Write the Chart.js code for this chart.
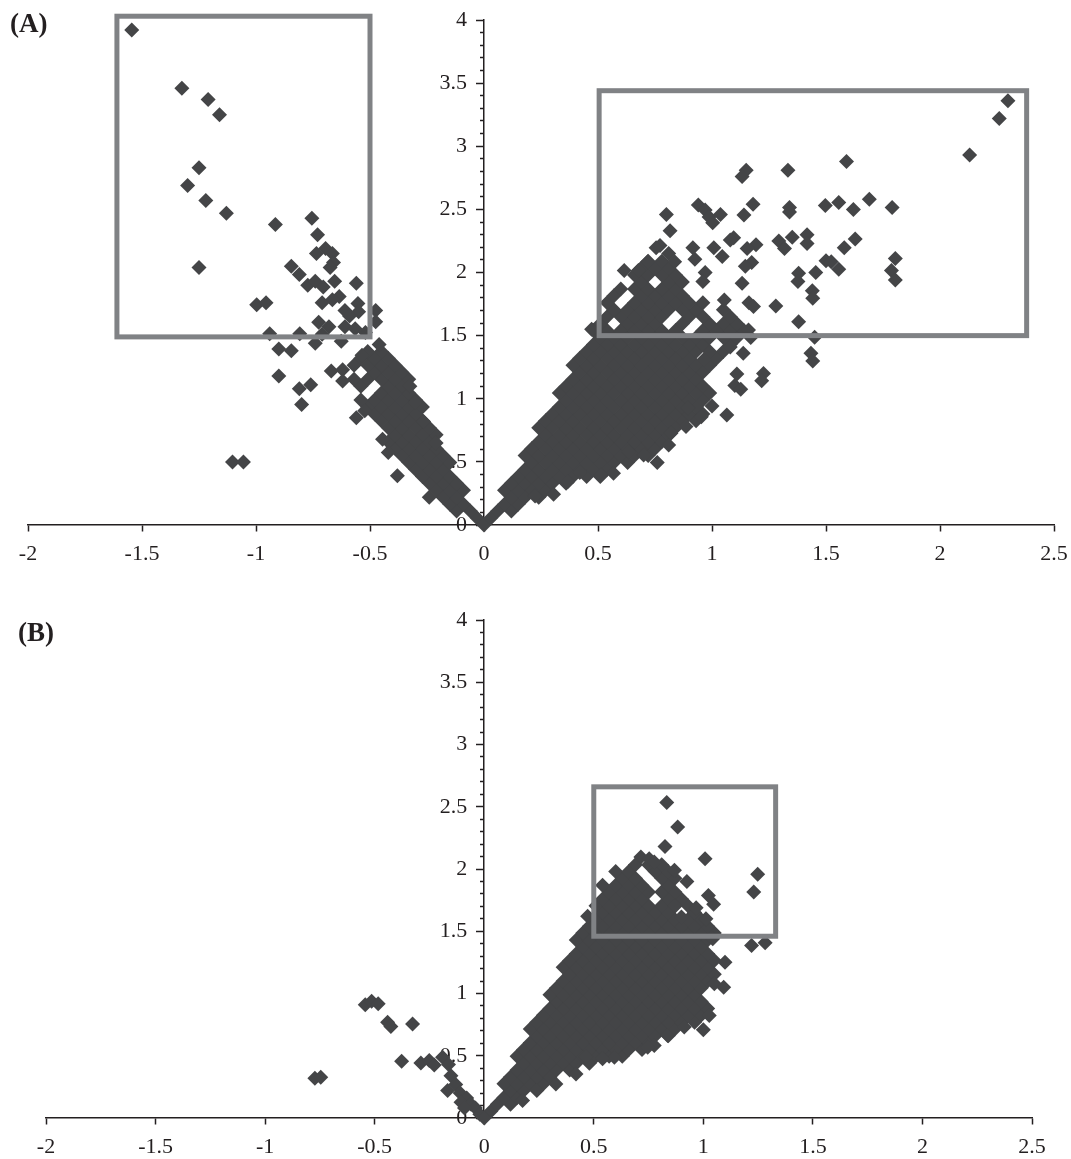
<!DOCTYPE html>
<html>
<head>
<meta charset="utf-8">
<title>Volcano plots</title>
<script src="https://cdn.jsdelivr.net/npm/chart.js@4/dist/chart.umd.js"></script>
<style>
  body { margin: 0; background: #fff; width: 1071px; height: 1159px; position: relative; overflow: hidden; }
  canvas { position: absolute; left: 0; }
  .tag { position: absolute; font: bold 27px "Liberation Serif", serif; color: #231f20; }
</style>
</head>
<body>
<canvas id="panel-a" width="1071" height="590" style="top:0"></canvas>
<canvas id="panel-b" width="1071" height="569" style="top:590px"></canvas>
<div class="tag" style="left:10px;top:8px">(A)</div>
<div class="tag" style="left:18px;top:617px">(B)</div>
<script>
const X_TICKS = [-2, -1.5, -1, -0.5, 0, 0.5, 1, 1.5, 2, 2.5];
const Y_TICKS = [0, 0.5, 1, 1.5, 2, 2.5, 3, 3.5, 4];
const Y_MINOR = [0, 0.1, 0.2, 0.3, 0.4, 0.6, 0.7, 0.8, 0.9, 1.1, 1.2, 1.3, 1.4, 1.6, 1.7, 1.8, 1.9,
  2.1, 2.2, 2.3, 2.4, 2.6, 2.7, 2.8, 2.9, 3.1, 3.2, 3.3, 3.4, 3.6, 3.7, 3.8, 3.9];

// Panel A, loose points on the down-regulated side: [x, y]
const aLeftLoose = [
  [-1.545,3.92],[-1.325,3.46],[-1.21,3.37],[-1.16,3.25],[-1.25,2.83],[-1.30,2.69],[-1.22,2.57],[-1.13,2.47],
  [-0.915,2.38],[-1.25,2.04],[-0.755,2.43],[-0.73,2.30],[-0.695,2.19],[-0.665,2.15],[-0.735,2.15],[-0.66,2.08],
  [-0.675,2.04],[-0.845,2.05],[-0.81,1.985],[-0.773,1.90],[-0.74,1.93],[-0.705,1.885],[-0.655,1.93],[-0.56,1.915],
  [-0.635,1.81],[-0.665,1.785],[-0.71,1.76],[-0.997,1.745],[-0.956,1.76],[-0.61,1.70],[-0.553,1.755],[-0.55,1.69],
  [-0.475,1.70],[-0.475,1.61],[-0.59,1.655],[-0.725,1.605],[-0.68,1.57],[-0.61,1.57],[-0.565,1.555],[-0.52,1.525],
  [-0.94,1.515],[-0.808,1.515],[-0.71,1.51],[-0.74,1.44],[-0.626,1.455],[-0.90,1.395],[-0.845,1.38],[-0.90,1.18],
  [-0.67,1.22],[-0.62,1.23],[-0.62,1.14],[-0.76,1.11],[-0.81,1.08],[-0.80,0.955],[-0.56,0.85],[-0.523,0.905],
  [-1.103,0.50],[-1.055,0.50],[-0.38,0.39],[0,0],
  [-0.325,1.10],[-0.30,0.97],[-0.265,0.82],[-0.21,0.65],[-0.535,1.345],[-0.42,0.575],[-0.445,0.68],
];
// Panel A, dense band on the down-regulated side: [y, x, x, ...]
const aLeftBand = [
  [.055,-.03],[.11,-.06,-.12],[.165,-.09,-.15],[.22,-.12,-.18,-.24],[.275,-.09,-.15,-.21],[.33,-.12,-.18,-.24],
  [.385,-.15,-.21,-.27],[.44,-.18,-.24,-.30],[.495,-.15,-.21,-.27,-.33],[.55,-.18,-.24,-.30,-.36],
  [.605,-.21,-.27,-.33,-.39],[.66,-.24,-.30,-.36,-.42],[.715,-.21,-.27,-.33,-.39],[.77,-.24,-.30,-.36,-.42],
  [.825,-.27,-.33,-.39,-.45],[.88,-.30,-.36,-.42,-.48],[.935,-.27,-.33,-.39,-.45,-.51],[.99,-.30,-.36,-.42,-.48,-.54],
  [1.045,-.33,-.39,-.45],[1.10,-.36,-.42,-.54],[1.155,-.33,-.39,-.45,-.51,-.57],[1.21,-.36,-.42,-.48],
  [1.265,-.39,-.45,-.51,-.57],[1.32,-.42,-.48,-.54],[1.375,-.45,-.51],[1.43,-.46],
];
// Panel A, loose points on the up-regulated side: [x, y]
const aRightLoose = [
  [2.298,3.36],[2.26,3.22],[2.13,2.93],[1.59,2.88],[1.333,2.81],[1.15,2.81],[1.132,2.76],[1.69,2.58],[1.556,2.555],
  [1.497,2.53],[1.62,2.50],[1.79,2.515],[1.34,2.515],[1.34,2.48],[1.18,2.54],[1.14,2.455],[0.94,2.535],[0.97,2.495],
  [1.037,2.46],[0.987,2.44],[1.003,2.395],[0.80,2.46],[0.816,2.33],[1.417,2.30],[1.417,2.23],[1.352,2.28],[1.293,2.25],
  [1.318,2.19],[1.628,2.265],[1.58,2.197],[1.095,2.276],[1.08,2.258],[1.193,2.22],[1.154,2.19],[1.008,2.197],
  [1.045,2.126],[0.916,2.197],[0.925,2.105],[0.772,2.213],[0.755,2.197],[0.81,2.15],[0.836,2.086],[1.804,2.11],
  [1.787,2.015],[1.804,1.94],[1.50,2.094],[1.523,2.086],[1.556,2.025],[1.455,2.0],[1.38,1.994],[1.377,1.928],
  [1.174,2.08],[1.146,2.05],[1.132,1.914],[0.615,2.015],[0.718,2.086],[0.677,2.015],[0.97,2.0],[0.96,1.928],
  [1.44,1.856],[1.442,1.796],[1.054,1.782],[1.162,1.76],[1.182,1.73],[1.28,1.735],[1.38,1.61],[1.45,1.487],
  [1.434,1.36],[1.442,1.30],[1.226,1.20],[1.218,1.143],[1.109,1.196],[1.10,1.104],[1.126,1.075],[1.0,0.943],
  [1.065,0.871],[0.953,0.858],[0.76,0.496],[0.81,0.634],[0.70,0.555],[0.635,0.58],[0.568,0.41],[0.513,0.396],
  [0.42,0.415],[0.367,0.343],[0.305,0.243],[0.224,0.23],[1.16,1.545],[1.137,1.36],[1.08,1.41],[0.965,1.31],
  [0.895,0.924],[0.886,0.78],[0.82,0.726],[0.472,1.55],
];
// Panel A, dense fan on the up-regulated side: [y, x, x, ...]
const aRightFan = [
  [.055,.03],[.11,.06,.12],[.165,.09,.15],[.22,.12,.18,.24],[.275,.09,.15,.21,.27],[.33,.12,.18,.24,.30,.36],
  [.385,.15,.21,.27,.33,.39,.45,.51],[.44,.18,.24,.30,.36,.42,.48,.54],[.495,.21,.27,.33,.39,.45,.51,.57,.63],
  [.55,.18,.24,.30,.36,.42,.48,.54,.60,.66,.72],[.605,.21,.27,.33,.39,.45,.51,.57,.63,.69,.75],
  [.66,.24,.30,.36,.42,.48,.54,.60,.66,.72,.78],[.715,.27,.33,.39,.45,.51,.57,.63,.69,.75,.81],
  [.77,.24,.30,.36,.42,.48,.54,.60,.66,.72,.78,.84],[.825,.27,.33,.39,.45,.51,.57,.63,.69,.75,.81,.87,.93],
  [.88,.30,.36,.42,.48,.54,.60,.66,.72,.78,.84,.90,.96],[.935,.33,.39,.45,.51,.57,.63,.69,.75,.81,.87,.93],
  [.99,.36,.42,.48,.54,.60,.66,.72,.78,.84,.90,.96],[1.045,.33,.39,.45,.51,.57,.63,.69,.75,.81,.87,.93,.99],
  [1.10,.36,.42,.48,.54,.60,.66,.72,.78,.84,.90,.96],[1.155,.39,.45,.51,.57,.63,.69,.75,.81,.87,.93],
  [1.21,.42,.48,.54,.60,.66,.72,.78,.84,.90,.96],[1.265,.39,.45,.51,.57,.63,.69,.75,.81,.87,.93,.99],
  [1.32,.42,.48,.54,.60,.66,.72,.78,.84,.90,1.02],[1.375,.45,.51,.57,.63,.69,.75,.81,.87,.93,.99,1.05],
  [1.43,.48,.54,.60,.66,.72,.78,.84,.90,.96,1.08],[1.485,.51,.57,.63,.69,.75,.81,.87,.93,.99,1.05,1.11,1.17],
  [1.54,.48,.54,.60,.66,.72,.78,.84,.96,1.02,1.08,1.14],[1.595,.51,.63,.69,.75,.87,.99,1.05,1.11],
  [1.65,.54,.60,.66,.72,.78,.90,.96,1.08],[1.705,.57,.63,.69,.75,.81,.87,.93,1.05],
  [1.76,.54,.66,.72,.78,.84,.90,.96],[1.815,.57,.69,.75,.81,.87],[1.87,.60,.66,.72,.78,.84],
  [1.925,.69,.81,.87],[1.98,.66,.72,.78,.84],[2.035,.69,.75,.81],[2.09,.72,.78],
];
// Panel B, loose points: [x, y]
const bLoose = [
  [0.833,2.534],[0.883,2.338],[0.825,2.18],[1.008,2.083],[1.248,1.957],[1.23,1.815],[0.715,2.096],[0.753,2.083],
  [0.776,2.056],[0.868,1.99],[0.925,1.90],[1.023,1.788],[1.047,1.716],[0.87,1.70],[0.967,1.689],[0.90,1.614],
  [1.012,1.60],[1.043,1.44],[1.22,1.386],[1.282,1.407],[1.099,1.252],[1.05,1.078],[1.093,1.05],[1.027,0.823],
  [1.0,0.708],[0.913,0.73],[0.837,0.662],[0.776,0.582],[0.746,0.568],[0.594,0.488],[0.54,0.475],[0.464,0.488],
  [0.419,0.354],[0.327,0.273],[0.24,0.22],[0.175,0.14],[0.472,1.62],
  [-0.543,0.909],[-0.514,0.938],[-0.484,0.917],[-0.441,0.77],[-0.426,0.735],[-0.327,0.756],[-0.377,0.456],
  [-0.289,0.442],[-0.251,0.461],[-0.228,0.426],[-0.19,0.488],[-0.163,0.429],[-0.773,0.319],[-0.746,0.327],
  [-0.152,0.34],[-0.167,0.22],[-0.13,0.27],[-0.11,0.2],[-0.08,0.16],[-0.106,0.126],[-0.06,0.11],[-0.04,0.08],
  [-0.09,0.08],[-0.02,0.03],[0,0],
];
// Panel B, dense fan: [y, x, x, ...]
const bFan = [
  [.055,.03],[.11,.06,.12],[.165,.09,.15],[.22,.12,.18],[.275,.09,.15,.21,.27],[.33,.12,.18,.24,.30],
  [.385,.15,.21,.27,.33,.39],[.44,.18,.24,.30,.36,.42,.48],[.495,.15,.21,.27,.33,.39,.45,.51,.57,.63],
  [.55,.18,.24,.30,.36,.42,.48,.54,.60,.66,.72],[.605,.21,.27,.33,.39,.45,.51,.57,.63,.69,.75],
  [.66,.24,.30,.36,.42,.48,.54,.60,.66,.72,.78,.84],[.715,.21,.27,.33,.39,.45,.51,.57,.63,.69,.75,.81,.87],
  [.77,.24,.30,.36,.42,.48,.54,.60,.66,.72,.78,.84,.90,.96],[.825,.27,.33,.39,.45,.51,.57,.63,.69,.75,.81,.87,.93,.99],
  [.88,.30,.36,.42,.48,.54,.60,.66,.72,.78,.84,.90,.96,1.02],[.935,.33,.39,.45,.51,.57,.63,.69,.75,.81,.87,.93,.99],
  [.99,.30,.36,.42,.48,.54,.60,.66,.72,.78,.84,.90,.96],[1.045,.33,.39,.45,.51,.57,.63,.69,.75,.81,.87,.93,.99],
  [1.10,.36,.42,.48,.54,.60,.66,.72,.78,.84,.90,.96,1.02],[1.155,.39,.45,.51,.57,.63,.69,.75,.81,.87,.93,.99,1.05],
  [1.21,.36,.42,.48,.54,.60,.66,.72,.78,.84,.90,.96,1.02],[1.265,.39,.45,.51,.57,.63,.69,.75,.81,.87,.93,.99,1.05],
  [1.32,.42,.48,.54,.60,.66,.72,.78,.84,.90,.96,1.02],[1.375,.45,.51,.57,.63,.69,.75,.81,.87,.93,.99],
  [1.43,.42,.48,.54,.60,.66,.72,.78,.84,.90,.96,1.02],[1.485,.45,.51,.57,.63,.69,.75,.81,.87,.93,.99,1.05],
  [1.54,.48,.54,.60,.66,.72,.78,.84,.90,.96,1.02],[1.595,.51,.57,.63,.69,.75,.81,.87,.93,.99],
  [1.65,.54,.60,.66,.72,.78,.84,.96],[1.705,.51,.57,.63,.69,.75,.81,.93],[1.76,.54,.60,.66,.72,.84,.90],
  [1.815,.57,.63,.69,.75,.81,.87],[1.87,.54,.60,.66,.72,.84],[1.925,.63,.69,.81,.87],[1.98,.60,.66,.78,.84],
  [2.035,.69,.75,.81],
];
const markColor = '#444547';
const frameColor = '#808285';
const inkColor = '#231f20';

// Highlight rectangles, in data units: [xMin, xMax, yMin, yMax]
const aBoxes = [[-1.61, -0.5, 1.49, 4.03], [0.505, 2.38, 1.5, 3.44]];
const bBoxes = [[0.5, 1.33, 1.46, 2.66]];

function looseToPoints(list) {
  return list.map(([x, y]) => ({ x, y }));
}

function rowsToPoints(rows) {
  return rows.flatMap(([y, ...xs]) => xs.map(x => ({ x, y })));
}

const labelFont = '22px "Liberation Serif", serif';

// Chart.js ignores tick padding on an axis pinned at a value, so the y labels
// are written here, under the markers, at the axis' own pixel positions
const yTickLabels = {
  id: 'yTickLabels',
  beforeDatasetsDraw(chart) {
    const { ctx, scales: { x, y } } = chart;
    ctx.save();
    ctx.font = labelFont;
    ctx.fillStyle = inkColor;
    ctx.textAlign = 'right';
    ctx.textBaseline = 'middle';
    Y_TICKS.forEach(v => ctx.fillText(String(v), x.getPixelForValue(0) - 17, y.getPixelForValue(v)));
    ctx.restore();
  },
};

// Frames sit above the markers, so they go in after the datasets
const frameBoxes = {
  id: 'frameBoxes',
  afterDatasetsDraw(chart, args, opts) {
    const { ctx, scales: { x, y } } = chart;
    ctx.save();
    ctx.strokeStyle = frameColor;
    ctx.lineWidth = 5;
    ctx.lineJoin = 'miter';
    opts.boxes.forEach(([x0, x1, y0, y1]) => {
      const left = x.getPixelForValue(x0);
      const top = y.getPixelForValue(y1);
      ctx.strokeRect(left, top, x.getPixelForValue(x1) - left, y.getPixelForValue(y0) - top);
    });
    ctx.restore();
  },
};

function makePanel(id, points, boxes, padding) {
  const font = { family: '"Liberation Serif", serif', size: 22 };
  new Chart(document.getElementById(id), {
    type: 'scatter',
    data: {
      datasets: [{
        data: points,
        pointStyle: 'rectRot',
        pointRadius: 7.5,
        pointBorderWidth: 0,
        backgroundColor: markColor,
        clip: false,
      }],
    },
    options: {
      responsive: false,
      animation: false,
      layout: { padding },
      plugins: { legend: { display: false }, tooltip: { enabled: false }, frameBoxes: { boxes } },
      scales: {
        x: {
          type: 'linear',
          min: -2,
          max: 2.5,
          position: { y: 0 },
          afterBuildTicks: s => { s.ticks = X_TICKS.map(value => ({ value })); },
          afterFit: s => { s.paddingLeft = 0; s.paddingRight = 0; },
          grid: { drawOnChartArea: false, tickLength: 6, tickColor: inkColor, tickWidth: 1.5 },
          border: { color: inkColor, width: 1.5 },
          ticks: { font, color: inkColor, padding: 10, maxRotation: 0, autoSkip: false, callback: v => String(v) },
        },
        y: {
          type: 'linear',
          min: 0,
          max: 4,
          position: { x: 0 },
          afterBuildTicks: s => { s.ticks = Y_TICKS.map(value => ({ value })); },
          grid: { drawOnChartArea: false, tickLength: 7, tickColor: inkColor, tickWidth: 1.5 },
          border: { color: inkColor, width: 1.5 },
          ticks: { display: false, autoSkip: false },
        },
        // Short unlabelled ticks every 0.1 get their own axis
        yMinor: {
          type: 'linear',
          axis: 'y',
          min: 0,
          max: 4,
          position: { x: 0 },
          afterBuildTicks: s => { s.ticks = Y_MINOR.map(value => ({ value })); },
          grid: { drawOnChartArea: false, tickLength: 4, tickColor: inkColor, tickWidth: 1.5 },
          border: { display: false },
          ticks: { display: false, autoSkip: false },
        },
      },
    },
    plugins: [yTickLabels, frameBoxes],
  });
}

makePanel('panel-a',
  [...rowsToPoints(aLeftBand), ...looseToPoints(aLeftLoose), ...rowsToPoints(aRightFan), ...looseToPoints(aRightLoose)],
  aBoxes, { left: 28, right: 17, top: 20, bottom: 65 });

makePanel('panel-b',
  [...rowsToPoints(bFan), ...looseToPoints(bLoose)],
  bBoxes, { left: 46, right: 39, top: 30, bottom: 41 });
</script>
</body>
</html>
